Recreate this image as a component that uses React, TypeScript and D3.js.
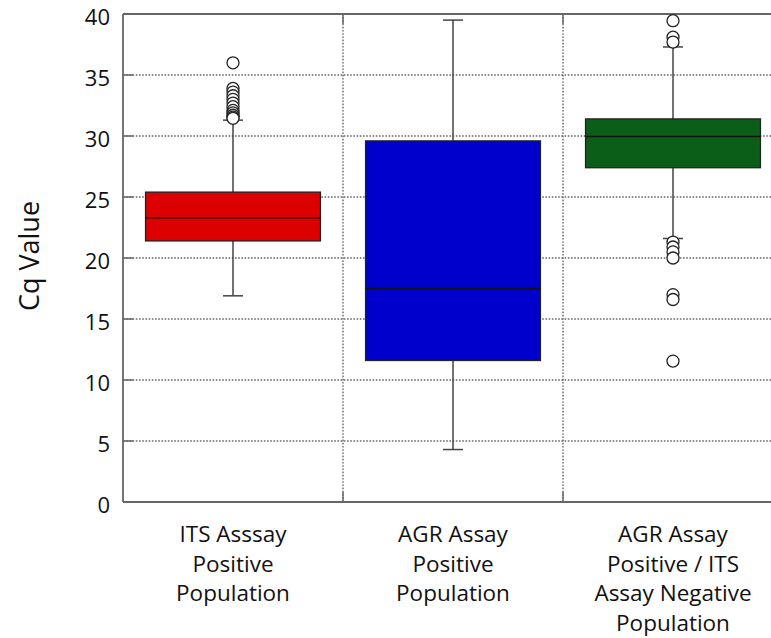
import React from "react";
import * as d3 from "d3";

const categories = [
  ["ITS Asssay", "Positive", "Population"],
  ["AGR Assay", "Positive", "Population"],
  ["AGR Assay", "Positive / ITS", "Assay Negative", "Population"],
];
const whiskerLow = [16.9, 4.3, 21.6];
const q1 = [21.4, 11.6, 27.4];
const median = [23.3, 17.5, 29.95];
const q3 = [25.4, 29.6, 31.4];
const whiskerHigh = [31.3, 39.5, 37.3];
const outliers = [
  [36.0, 33.9, 33.6, 33.3, 33.0, 32.7, 32.4, 32.1, 31.9, 31.7, 31.55, 31.45],
  [],
  [39.45, 38.1, 37.7, 21.3, 20.9, 20.5, 20.0, 17.0, 16.6, 11.55],
];
const fills = ["#dc0000", "#0000cd", "#0b5e18"];
const yTicks = [0, 5, 10, 15, 20, 25, 30, 35, 40];

const W = 771;
const H = 638;
const left = 123;
const right = 783;
const top = 14;
const bottom = 502;
const font = "'Open Sans', 'Noto Sans', sans-serif";

export default function App() {
  const y = d3.scaleLinear().domain([0, 40]).range([bottom, top]);
  const x = d3
    .scaleBand<number>()
    .domain(categories.map((_, i) => i))
    .range([left, right])
    .padding(0);
  const bw = x.bandwidth();
  const boxW = bw * 0.795;
  const capW = 20;
  const axisColor = "#666";

  return (
    <svg
      width={W}
      height={H}
      style={{ position: "absolute", left: 0, top: 0, background: "#fff" }}
    >
      {yTicks.slice(1, -1).map((t) => (
        <g key={"g" + t}>
          <line
            x1={left}
            x2={right}
            y1={y(t)}
            y2={y(t)}
            stroke="#666"
            strokeWidth={1.4}
            strokeDasharray="1.6 1.6"
          />
          <line x1={left} x2={left + 10} y1={y(t)} y2={y(t)} stroke={axisColor} strokeWidth={1.5} />
        </g>
      ))}
      {categories.slice(1).map((_, i) => {
        const xv = x(i + 1)!;
        return (
          <g key={"v" + i}>
            <line x1={xv} x2={xv} y1={top} y2={bottom} stroke="#666" strokeWidth={1.4} strokeDasharray="1.6 1.6" />
            <line x1={xv} x2={xv} y1={top} y2={top + 10} stroke={axisColor} strokeWidth={1.5} />
            <line x1={xv} x2={xv} y1={bottom - 10} y2={bottom} stroke={axisColor} strokeWidth={1.5} />
          </g>
        );
      })}
      <line x1={left} x2={right} y1={top} y2={top} stroke={axisColor} strokeWidth={1.8} />
      <line x1={left} x2={right} y1={bottom} y2={bottom} stroke={axisColor} strokeWidth={1.8} />
      <line x1={left} x2={left} y1={top} y2={bottom} stroke={axisColor} strokeWidth={1.8} />

      {categories.map((_, i) => {
        const cx = x(i)! + bw / 2;
        return (
          <g key={"b" + i}>
            <line x1={cx} x2={cx} y1={y(whiskerHigh[i])} y2={y(q3[i])} stroke="#444" strokeWidth={1.5} />
            <line x1={cx} x2={cx} y1={y(q1[i])} y2={y(whiskerLow[i])} stroke="#444" strokeWidth={1.5} />
            <line x1={cx - capW / 2} x2={cx + capW / 2} y1={y(whiskerHigh[i])} y2={y(whiskerHigh[i])} stroke="#444" strokeWidth={1.5} />
            <line x1={cx - capW / 2} x2={cx + capW / 2} y1={y(whiskerLow[i])} y2={y(whiskerLow[i])} stroke="#444" strokeWidth={1.5} />
            <rect
              x={cx - boxW / 2}
              y={y(q3[i])}
              width={boxW}
              height={y(q1[i]) - y(q3[i])}
              fill={fills[i]}
              stroke="#222"
              strokeWidth={1.3}
            />
            <line x1={cx - boxW / 2} x2={cx + boxW / 2} y1={y(median[i])} y2={y(median[i])} stroke="#111" strokeWidth={1.5} />
            {outliers[i].map((v, j) => (
              <circle key={j} cx={cx} cy={y(v)} r={6} fill="#fff" stroke="#222" strokeWidth={1.3} />
            ))}
          </g>
        );
      })}

      {yTicks.map((t) => (
        <text
          key={"t" + t}
          x={110}
          y={y(t) + 3}
          dy="0.36em"
          textAnchor="end"
          fontFamily={font}
          fontSize={22}
          fill="#111"
        >
          {t}
        </text>
      ))}
      <text
        transform={`translate(39, 256) rotate(-90)`}
        textAnchor="middle"
        fontFamily={font}
        fontSize={27}
        fill="#111"
      >
        Cq Value
      </text>
      {categories.map((lines, i) => (
        <text
          key={"x" + i}
          x={x(i)! + bw / 2}
          y={542}
          textAnchor="middle"
          fontFamily={font}
          fontSize={22.5}
          fill="#111"
        >
          {lines.map((l, k) => (
            <tspan key={k} x={x(i)! + bw / 2} dy={k === 0 ? 0 : 29.7}>
              {l}
            </tspan>
          ))}
        </text>
      ))}
    </svg>
  );
}
